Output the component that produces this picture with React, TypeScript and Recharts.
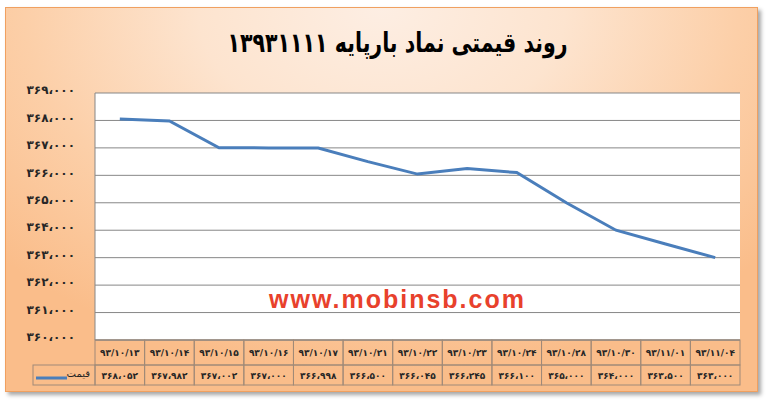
import React from 'react';
import { LineChart, Line, XAxis, YAxis, CartesianGrid } from 'recharts';

// تاریخ‌ها و قیمت‌های پایانی
const dates = [
  '93/10/13', '93/10/14', '93/10/15', '93/10/16', '93/10/17', '93/10/21', '93/10/22',
  '93/10/23', '93/10/24', '93/10/28', '93/10/30', '93/11/01', '93/11/04',
];
const prices = [
  368052, 367982, 367002, 367000, 366998, 366500, 366045,
  366245, 366100, 365000, 364000, 363500, 363000,
];
const yTicks = [360000, 361000, 362000, 363000, 364000, 365000, 366000, 367000, 368000, 369000];

const TITLE = 'روند قیمتی نماد بارپایه ۱۳۹۳۱۱۱۱';
const SERIES_NAME = 'قیمت';
const WATERMARK = 'www.mobinsb.com';

const W = 767;
const H = 401;
const PLOT_LEFT = 95;
const PLOT_RIGHT = 740;
const CELL = (PLOT_RIGHT - PLOT_LEFT) / dates.length;
const LINE_COLOR = '#4a7ebb';
const TABLE_BORDER = '#a08a78';
const FONT = '"DejaVu Sans", sans-serif';

const faDigits = '۰۱۲۳۴۵۶۷۸۹';
const toFa = (s: string) => s.replace(/[0-9]/g, (d) => faDigits[Number(d)]);
const fmt = (n: number) => toFa(n.toLocaleString('en-US')).replace(/,/g, '،');

const chartData = dates.map((d, i) => ({ date: d, price: prices[i] }));

function PriceTick(props: any) {
  const { x, y, payload } = props;
  return (
    <text x={x} y={y - 3} dy="0.35em" textAnchor="end" fontFamily={FONT} fontWeight="bold" fontSize={12} fill="#262626">
      {fmt(payload.value)}
    </text>
  );
}

// سطرهای جدول داده زیر نمودار
function TableTick(props: any) {
  const { x, y, payload } = props;
  const i = payload.index;
  const left = x - CELL / 2;
  return (
    <g>
      <rect x={left} y={y} width={CELL} height={25} fill="none" stroke={TABLE_BORDER} />
      <text x={x} y={y + 16} textAnchor="middle" fontFamily={FONT} fontWeight="bold" fontSize={9} fill="#262626">
        {toFa(payload.value)}
      </text>
      <rect x={left} y={y + 25} width={CELL} height={20} fill="none" stroke={TABLE_BORDER} />
      <text x={x} y={y + 39} textAnchor="middle" fontFamily={FONT} fontWeight="bold" fontSize={9} fill="#262626">
        {fmt(prices[i])}
      </text>
      {i === 0 && (
        <g>
          <rect x={left - 62} y={y + 25} width={62} height={20} fill="none" stroke={TABLE_BORDER} />
          <line x1={left - 59} x2={left - 28} y1={y + 38} y2={y + 38} stroke={LINE_COLOR} strokeWidth={3} />
          <text x={left - 5} y={y + 37} textAnchor="end" fontFamily={FONT} fontSize={10} fill="#262626">
            {SERIES_NAME}
          </text>
        </g>
      )}
    </g>
  );
}

export default function App() {
  return (
    <div style={{ position: 'absolute', left: 0, top: 0, width: W, height: H, background: '#fff', overflow: 'hidden' }}>
      <div
        style={{
          position: 'absolute', left: 5, top: 7, width: 751, height: 383,
          border: '1px solid #f0a060',
          background: 'radial-gradient(ellipse 70% 95% at 50% 0%, #fdeee3 0%, #fde4cf 35%, #fccfa8 68%, #fabd8a 100%)',
          boxShadow: '3px 3px 4px rgba(0,0,0,0.35)',
        }}
      />
      <div style={{ position: 'absolute', left: 0, top: 0 }}>
        <LineChart width={W} height={H} data={chartData} margin={{ top: 93, right: W - PLOT_RIGHT, bottom: 16, left: 15 }}>
          <CartesianGrid vertical={false} stroke="#878787" fill="#ffffff" />
          <XAxis
            dataKey="date"
            interval={0}
            padding={{ left: CELL / 2, right: CELL / 2 }}
            height={45}
            tickLine={false}
            tickSize={0}
            tickMargin={0}
            axisLine={{ stroke: '#878787' }}
            tick={<TableTick />}
          />
          <YAxis
            domain={[360000, 369000]}
            ticks={yTicks}
            width={80}
            tickLine={false}
            tickSize={0}
            tickMargin={20}
            axisLine={{ stroke: '#878787' }}
            tick={<PriceTick />}
          />
          <Line
            type="linear"
            dataKey="price"
            stroke={LINE_COLOR}
            strokeWidth={3}
            dot={false}
            isAnimationActive={false}
          />
        </LineChart>
      </div>
      <div
        dir="rtl"
        style={{
          position: 'absolute', left: 14, top: 27, width: W, textAlign: 'center',
          fontFamily: FONT, fontWeight: 'bold', fontSize: 27, color: '#000',
          transform: 'scaleX(0.76)',
        }}
      >
        {TITLE}
      </div>
      <div
        style={{
          position: 'absolute', left: 0, top: 285, width: 795, textAlign: 'center',
          fontFamily: 'Arial, "Liberation Sans", sans-serif', fontWeight: 'bold', fontSize: 25,
          color: '#e8412c', letterSpacing: 2, pointerEvents: 'none',
        }}
      >
        {WATERMARK}
      </div>
    </div>
  );
}
